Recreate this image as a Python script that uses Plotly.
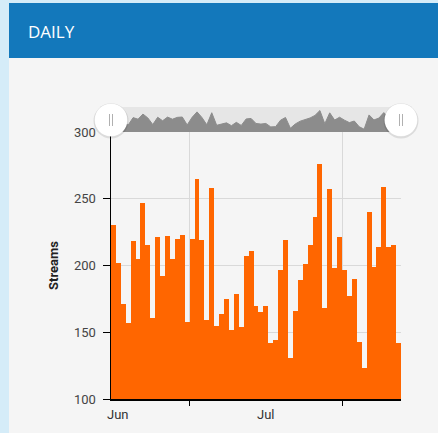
import plotly.graph_objects as go
import pandas as pd

W, H = 438, 433
L, R, T, B = 111, 37, 107, 34
PW, PH = W - L - R, H - T - B

def px(xp):
    return (xp - L) / PW

def py(yp):
    return (H - B - yp) / PH

dates = pd.date_range("2017-05-31", periods=59, freq="D")
streams = [230, 202, 171, 157, 218, 205, 247, 215, 161, 221,
           192, 222, 205, 220, 223, 158, 220, 265, 219, 159,
           258, 155, 164, 175, 152, 179, 154, 207, 211, 170,
           165, 170, 142, 144, 197, 219, 131, 166, 189, 201,
           215, 236, 276, 168, 257, 198, 221, 197, 177, 190,
           143, 123, 240, 199, 214, 259, 214, 215, 142]
month_labels = ["Jun", "Jul"]
month_label_dates = ["2017-06-01", "2017-07-01"]
grid_dates = ["2017-06-15 12:00", "2017-07-16 12:00"]
y_ticks = [100, 150, 200, 250, 300]

x_range = [dates[0] - pd.Timedelta(hours=12), dates[-1] + pd.Timedelta(hours=12)]
main_top = py(132)

fig = go.Figure()
fig.add_trace(go.Bar(x=dates, y=streams, width=86400000,
                     marker=dict(color="#ff6600", line=dict(width=0)),
                     xaxis="x", yaxis="y", hoverinfo="skip"))
fig.add_trace(go.Scatter(x=dates, y=streams, mode="lines", fill="tozeroy",
                         line=dict(color="#8c8c8c", width=1), fillcolor="#8c8c8c",
                         xaxis="x2", yaxis="y2", hoverinfo="skip"))

shapes = [
    dict(type="rect", xref="paper", yref="paper", x0=px(9), x1=px(445), y0=py(58), y1=py(440),
         fillcolor="#f5f5f5", line=dict(width=0), layer="below"),
    dict(type="rect", xref="paper", yref="paper", x0=px(9), x1=px(445), y0=py(58), y1=py(3),
         fillcolor="#1378bb", line=dict(width=0), layer="below"),
    dict(type="rect", xref="paper", yref="paper", x0=px(111), x1=px(401), y0=main_top, y1=py(107),
         fillcolor="#e6e6e6", line=dict(width=0), layer="below"),
]
for cx in (111, 401):
    shapes.append(dict(type="circle", xref="paper", yref="paper",
                       x0=px(cx - 17.5), x1=px(cx + 17.5), y0=py(120 + 18.5), y1=py(120 - 16.5),
                       fillcolor="rgba(0,0,0,0.10)", line=dict(width=0), layer="above"))
    shapes.append(dict(type="circle", xref="paper", yref="paper",
                       x0=px(cx - 16.5), x1=px(cx + 16.5), y0=py(120 + 16.5), y1=py(120 - 16.5),
                       fillcolor="#ffffff", line=dict(width=0.5, color="rgba(0,0,0,0.08)"), layer="above"))
    for dx in (-1.5, 1.5):
        shapes.append(dict(type="line", xref="paper", yref="paper",
                           x0=px(cx + dx), x1=px(cx + dx), y0=py(114), y1=py(126),
                           line=dict(color="#b0b0b0", width=1), layer="above"))

annotations = [
    dict(text="DAILY", xref="paper", yref="paper", x=px(26), y=py(31), xanchor="left", yanchor="middle",
         showarrow=False, font=dict(family="Open Sans", size=17, color="#ffffff")),
    dict(text="<b>Streams</b>", xref="paper", yref="paper", x=px(53.5), y=(main_top) / 2,
         xanchor="center", yanchor="middle", textangle=-90, showarrow=False,
         font=dict(family="Roboto", size=13, color="#222222")),
]
for lab, d in zip(month_labels, month_label_dates):
    annotations.append(dict(text=lab, xref="x", yref="paper", x=d, y=py(414), xanchor="center",
                            yanchor="middle", showarrow=False,
                            font=dict(family="Roboto", size=13, color="#333333")))

fig.update_layout(
    width=W, height=H,
    margin=dict(l=L, r=R, t=T, b=B, pad=0),
    paper_bgcolor="#d5ecf8",
    plot_bgcolor="rgba(0,0,0,0)",
    showlegend=False,
    bargap=0,
    font=dict(family="Roboto", size=13, color="#333333"),
    xaxis=dict(type="date", range=x_range, domain=[0, 1], anchor="y",
               tickvals=grid_dates, showticklabels=False, ticks="outside", ticklen=5,
               tickcolor="#000000", showgrid=True, gridcolor="#d9d9d9", gridwidth=1,
               showline=True, linecolor="#000000", linewidth=1.5, zeroline=False),
    yaxis=dict(range=[100, 300], domain=[0, main_top], anchor="x", tickvals=y_ticks,
               ticks="outside", ticklen=7, tickcolor="#000000", ticklabelstandoff=4,
               showgrid=True, gridcolor="#d9d9d9", gridwidth=1,
               showline=True, linecolor="#000000", linewidth=1.5, zeroline=False,
               tickfont=dict(family="Roboto", size=13, color="#444444")),
    xaxis2=dict(type="date", range=x_range, anchor="y2", visible=False),
    yaxis2=dict(range=[100, 305], domain=[main_top, 1], anchor="x2", visible=False),
    shapes=shapes,
    annotations=annotations,
)

fig.write_html("out.html",
               config={"displayModeBar": False, "staticPlot": True},
               post_script="document.body.style.margin='0';document.body.style.overflow='hidden';document.body.style.background='#d5ecf8';")
